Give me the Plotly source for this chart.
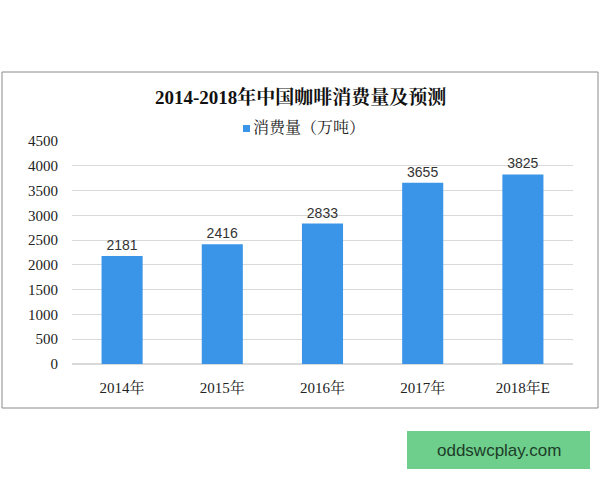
import plotly.graph_objects as go

categories = ["2014年", "2015年", "2016年", "2017年", "2018年E"]
values = [2181, 2416, 2833, 3655, 3825]
y_ticks = [0, 500, 1000, 1500, 2000, 2500, 3000, 3500, 4000, 4500]
series_name = "消费量（万吨）"
title_text = "2014-2018年中国咖啡消费量及预测"
bar_color = "#3a95e8"

W, H = 600, 480
px = lambda x: x / W
py = lambda y: 1 - y / H

serif = "Liberation Serif, Noto Serif CJK SC, Noto Sans CJK SC, serif"
sans = "Liberation Sans, Arial, Noto Sans CJK SC, sans-serif"

fig = go.Figure()
fig.add_trace(go.Bar(
    x=categories, y=values, name=series_name,
    marker=dict(color=bar_color, line=dict(width=0)),
    width=0.41,
    text=[str(v) for v in values], textposition="outside",
    textfont=dict(family=sans, size=14, color="#333333"),
    cliponaxis=False, showlegend=False,
))

fig.update_layout(
    width=W, height=H,
    margin=dict(l=0, r=0, t=0, b=0),
    paper_bgcolor="white", plot_bgcolor="white",
    showlegend=False,
    xaxis=dict(domain=[px(72), px(573)], showgrid=False, showline=False,
               tickfont=dict(family=serif, size=15, color="#222"),
               ticks="", automargin=False, ticklabelstandoff=13),
    yaxis=dict(domain=[py(364), py(141)], range=[0, 4500], tickvals=y_ticks,
               showgrid=True, gridcolor="#d9d9d9", gridwidth=1,
               zeroline=True, zerolinecolor="#d9d9d9",
               tickfont=dict(family=serif, size=15, color="#222"),
               ticks="", automargin=False, ticklabelstandoff=13),
    bargap=0.59,
)

# outer chart border
fig.add_shape(type="rect", xref="paper", yref="paper",
              x0=px(2), x1=px(598), y0=py(408), y1=py(72),
              line=dict(color="#8a8a8a", width=1), fillcolor="rgba(0,0,0,0)", layer="below")

# title
fig.add_annotation(x=0.5, y=py(97), xref="paper", yref="paper", text="<b>" + title_text + "</b>",
                   showarrow=False, xanchor="center", yanchor="middle",
                   font=dict(family=serif, size=19, color="#111"))

# legend: small square + label
fig.add_shape(type="rect", xref="paper", yref="paper",
              x0=px(243), x1=px(250), y0=py(132), y1=py(125),
              line=dict(width=0), fillcolor=bar_color)
fig.add_annotation(x=px(251), y=py(128), xref="paper", yref="paper", text=series_name,
                   showarrow=False, xanchor="left", yanchor="middle",
                   font=dict(family=serif, size=16, color="#222"))

# green badge
fig.add_shape(type="rect", xref="paper", yref="paper",
              x0=px(407), x1=px(590), y0=py(469), y1=py(431),
              line=dict(width=0), fillcolor="#6dcf8b")
fig.add_annotation(x=px(498.5), y=py(450), xref="paper", yref="paper", text="oddswcplay.com",
                   showarrow=False, xanchor="center", yanchor="middle",
                   font=dict(family="Liberation Sans, Arial, sans-serif", size=17, color="#1e3d2a"))

fig.write_html("out.html", config={"displayModeBar": False},
               post_script="document.body.style.margin='0';document.body.style.padding='0';")
